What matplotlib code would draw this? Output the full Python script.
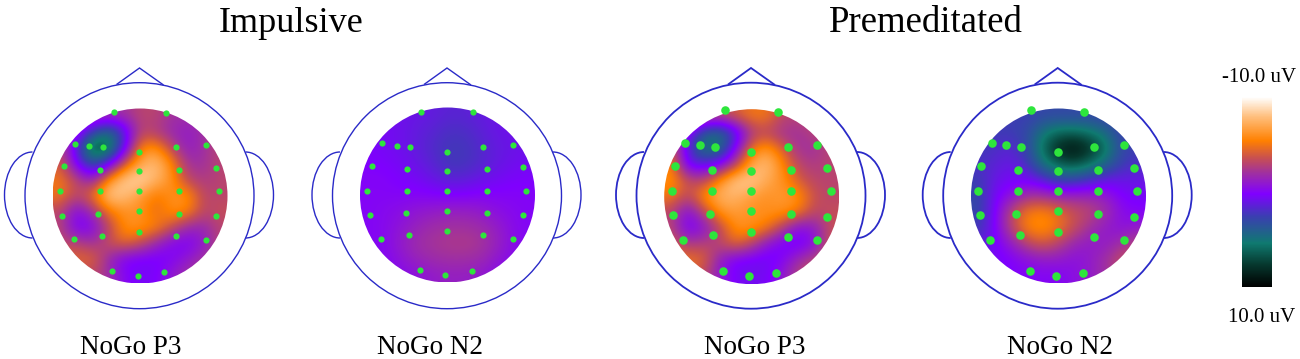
#!/bin/py
#
# scalp maps, impulsive vs premeditated
#
import numpy as np
import matplotlib
matplotlib.use('Agg')
import matplotlib.pyplot as plt
from matplotlib.colors import LinearSegmentedColormap
from matplotlib.patches import Arc, Circle, Ellipse, Polygon

plt.rcParams['font.family'] = ['Liberation Serif', 'DejaVu Serif']

#
# data, values in uV (11 x 11, top row first)
#
titles = ['Impulsive', 'Premeditated']
labels = ['NoGo P3', 'NoGo N2', 'NoGo P3', 'NoGo N2']
bar_labels = ['-10.0 uV', '10.0 uV']

imp_p3 = [
    [-2, -2, -2, -2, -2, -3, -3, -2, -2, -2, -2],
    [-2, -1, 2.5, 5, 1.5, -3, -2.5, -1.5, -1, -2, -3],
    [-3, 1.5, 8, 7, 1, -5.5, -6, -3, -1, -2, -3],
    [-4, .5, 3.5, 1, -4, -7, -8, -5.5, -2, -2, -3],
    [-5, -3, -1, -6, -8.5, -9, -7.5, -6, -3, -2.5, -3],
    [-5, -3, -5, -8.5, -8, -6.5, -5, -6, -6, -3, -3],
    [-3, 0, -2, -5, -6, -6, -4.5, -6, -5.5, -3, -3.5],
    [-3, .5, 0, -3, -6, -6, -5.5, -3.5, -1.5, -1.5, -3],
    [-3, -3, -2, -3.5, -4.5, -3.5, -1.5, 0, .3, -1, -3],
    [-4.5, -4.5, -4.5, -1.5, .3, .5, .5, 0, -1, -2, -3],
    [-3, -3, -3, -2, 0, .5, .3, -1, -2, -3, -3],
]
imp_n2 = [
    [.5, .5, .8, 1, 1.2, 1.5, 1.5, 1.2, 1, .8, .8],
    [.5, .5, .8, 1.2, 1.5, 2, 2, 1.5, 1, .8, .8],
    [.3, .5, .8, 1.2, 1.8, 2.3, 2.3, 1.8, 1.2, 1, .8],
    [.2, .3, .5, 1, 1.5, 2.3, 2.3, 1.8, 1.2, .8, .6],
    [0, 0, .3, .5, 1, 1.5, 1.5, 1, .7, .4, .3],
    [0, 0, 0, 0, .1, .2, .2, 0, 0, 0, 0],
    [0, -.2, -.4, -.8, -1, -1.2, -1.2, -1, -.5, -.2, 0],
    [0, -.2, -.7, -1.3, -1.8, -2, -2, -1.8, -1.2, -.4, 0],
    [0, -.2, -1, -1.8, -2.2, -2.4, -2.5, -2.3, -1.5, -.5, 0],
    [0, 0, -.7, -1.4, -1.8, -2, -2, -1.8, -1, -.3, 0],
    [0, 0, -.2, -.6, -1, -1.2, -1.2, -1, -.4, 0, 0],
]
pre_p3 = [
    [-5, -5, -3, -3, -4, -5, -5, -3, -3, -3, -3],
    [-3, 0, 4, 5, 2, -2.5, -3, -2, -2, -3, -3],
    [-4, 1.5, 5.5, 5, 0, -5, -6.5, -4, -2, -2, -3],
    [-5.5, 1, 1, 0, -3, -7, -8, -5.5, -3, -2.5, -3],
    [-6, -3.5, -3, -6, -8.5, -8.5, -7, -6, -4, -3, -3],
    [-5, -3, -6, -7.5, -7.5, -6.5, -6, -6.5, -6, -3.5, -3],
    [-3, 0, -3, -6, -6.5, -6, -6, -6, -5, -3, -3.5],
    [-3, .5, -.5, -3, -6, -6, -5, -2.5, 0, -1, -3.5],
    [-4, -2.5, -3, -3, -4.5, -3, -.5, .5, .7, -.5, -4],
    [-5, -5, -4.5, -1, .5, .7, .7, 0, -2, -3, -4],
    [-4, -4, -3, -1, .5, .7, .5, -1, -3, -4, -4],
]
pre_n2 = [
    [2.5, 2.5, 2.5, 2.5, 3, 3, 3, 3, 2.5, 2.5, 2.5],
    [2.5, 2.5, 2.5, 3, 5, 6, 6, 5.5, 4.5, 2.5, 2.5],
    [2.5, 2, 1.5, 3, 6, 8.5, 9.5, 8, 6, 3, 2.5],
    [2, 1.5, 1, 2, 5, 6.5, 7, 6, 4.5, 2.5, 2],
    [2.5, 1, .5, .5, 1.5, 3, 3, 2, 1, 1, 1],
    [3, .5, -.5, -2, -2, -1.5, -1.5, -1.5, -1, .3, .5],
    [3, .3, -3, -5, -5.5, -4.5, -3.5, -3, -2, -.3, 0],
    [2.5, .3, -3, -5.5, -6, -5, -3.5, -2, -1, -.5, -1],
    [1.5, .5, -1, -3, -4, -3, -1.5, -1, -1, -2, -3],
    [1, .5, .2, -.5, -1, -1, -.5, -1, -2, -3.5, -3],
    [.5, .5, .2, 0, 0, 0, -.5, -1, -2, -3, -3],
]

#
# electrode positions, pixels of the picture
#
imp_p3_x = [113.7, 165.7, 74.7, 89.3, 103, 139.3, 175.7, 205.7, 64.3, 99.7, 139.3, 179.3, 216, 59.7, 99.7, 139.3, 179.3, 218.7, 61.7, 98.3, 139.3, 179.3, 216, 73.7, 101.7, 139.3, 175.7, 205.7, 112.3, 138.3, 164]
imp_p3_y = [112.3, 112.7, 144, 146.3, 147.3, 151.7, 147.3, 145, 166.3, 170, 170.7, 169.7, 167.7, 191, 191, 190.7, 191, 191, 215.7, 213.7, 211.3, 213.7, 215.7, 239.3, 235.7, 231.7, 235.7, 239.7, 270.7, 275.7, 271.7]
imp_n2_x = [420.7, 472.7, 381.7, 396.7, 410.3, 446.7, 483, 513, 371.7, 407, 446.7, 486.7, 523, 367, 407, 446.7, 486.7, 526.3, 369.7, 405.7, 446.7, 486.7, 523, 380.7, 409.3, 446.7, 483, 512.7, 419.7, 445.3, 471.7]
imp_n2_y = [112.3, 112, 143.3, 146, 147, 151.7, 147, 144.7, 166, 169.3, 170.7, 169.3, 167.3, 190.7, 190.7, 190.7, 190.7, 190.7, 215.3, 213, 210.7, 213, 215.3, 239, 235.3, 231, 235.3, 238.7, 270.3, 275, 271]
pre_p3_x = [724.7, 777.7, 685, 699.7, 714.7, 751.3, 787.7, 817.3, 674.7, 711.7, 751.3, 791, 827.3, 671.7, 711.7, 751.3, 791, 830.7, 673.3, 709.7, 751.3, 791, 827.3, 683, 713.3, 751.3, 787.7, 817.3, 723, 749.3, 776]
pre_p3_y = [110.3, 112, 143.3, 145, 146.7, 151.7, 146.7, 145, 166, 169.7, 171.3, 169.7, 167.7, 191, 191, 191, 191, 191, 215.3, 213.7, 210.7, 213.7, 217, 240, 235, 232, 236.7, 240, 271, 276, 272.7]
pre_n2_x = [1031.3, 1084.3, 991.7, 1006.3, 1021.3, 1058, 1094.3, 1124, 981.3, 1018, 1058, 1097.7, 1134, 978.3, 1018, 1058, 1097.7, 1137.3, 979.7, 1016.3, 1058, 1097.7, 1134, 989.7, 1019.7, 1058, 1094.3, 1124, 1029.7, 1056, 1082.7]
pre_n2_y = [110.3, 112, 143.3, 145, 146.7, 151.7, 146.7, 145, 166.3, 169.7, 171.3, 169.7, 167.7, 191, 191, 191, 191, 191, 215.3, 213.7, 210.7, 213.7, 217, 240, 235, 232, 236.7, 240, 271, 276, 272.7]

# stops of the colour bar, bottom (10 uV) to top (-10 uV)
stops = [(0.0, '#000000'), (0.12, '#06392f'), (0.23, '#0f7a70'), (0.37, '#3a3fb0'),
         (0.49, '#8000ff'), (0.60, '#a030a0'), (0.68, '#c85050'), (0.77, '#ff8000'),
         (0.90, '#ffc080'), (1.0, '#ffffff')]
cmap = LinearSegmentedColormap.from_list('scalp', stops, N=512).reversed()

HEAD = '#2a2ac8'


def draw_map(ax, grid, ex, ey, cx, cy, hx, dot, lw):
    #
    # one scalp: field, head outline, electrodes
    #
    R = 87.5
    im = ax.imshow(grid, cmap=cmap, vmin=-10, vmax=10, interpolation='bicubic',
                   extent=(cx-R, cx+R, cy+R, cy-R), zorder=1)
    im.set_clip_path(Circle((cx, cy), R, transform=ax.transData))

    ax.add_patch(Ellipse((hx, 195.7), 229, 226, fill=False, ec=HEAD, lw=lw, zorder=2))
    ax.add_patch(Polygon([(hx-23, 84.5), (hx, 68), (hx+24, 85)], closed=False,
                         fill=False, ec=HEAD, lw=lw, zorder=2))
    ax.add_patch(Arc((hx-107, 195), 56, 86, theta1=90, theta2=270, ec=HEAD, lw=lw, zorder=2))
    ax.add_patch(Arc((hx+106, 195), 56, 86, theta1=270, theta2=90, ec=HEAD, lw=lw, zorder=2))

    ax.scatter(ex, ey, s=dot, color='#2ee63c', linewidths=0, zorder=3)


#
# main function: execute
#
def main():
    fig = plt.figure(figsize=(13.0, 3.59), dpi=100)
    ax = fig.add_axes([0, 0, 1, 1])

    draw_map(ax, imp_p3, imp_p3_x, imp_p3_y, 140, 196, 139.5, 20, 1.0)
    draw_map(ax, imp_n2, imp_n2_x, imp_n2_y, 447.5, 195, 447, 20, 1.0)
    draw_map(ax, pre_p3, pre_p3_x, pre_p3_y, 751.7, 196.7, 751, 38, 1.3)
    draw_map(ax, pre_n2, pre_n2_x, pre_n2_y, 1058.5, 196, 1057.7, 38, 1.3)

    ax.set_xlim(0, 1300)
    ax.set_ylim(359, 0)
    ax.axis('off')

    ax.text(291, 23, titles[0], fontsize=26, ha='center', va='center')
    ax.text(925.5, 23, titles[1], fontsize=26.5, ha='center', va='center')
    for x, s in zip([131, 430, 755, 1060], labels):
        ax.text(x, 348, s, fontsize=19.5, ha='center', va='center')

    ax.text(1259, 77, bar_labels[0], fontsize=15, ha='center', va='center')
    ax.text(1262, 317, bar_labels[1], fontsize=15, ha='center', va='center')

    # colour bar
    cax = fig.add_axes([1242/1300, 1-287/359, 30/1300, 190/359])
    sm = plt.cm.ScalarMappable(norm=plt.Normalize(-10, 10), cmap=cmap)
    cb = fig.colorbar(sm, cax=cax)
    cb.ax.invert_yaxis()
    cb.set_ticks([])
    cb.outline.set_visible(False)

    plt.savefig('out.png', dpi=100)


#
# EXECUTE
#
main()
